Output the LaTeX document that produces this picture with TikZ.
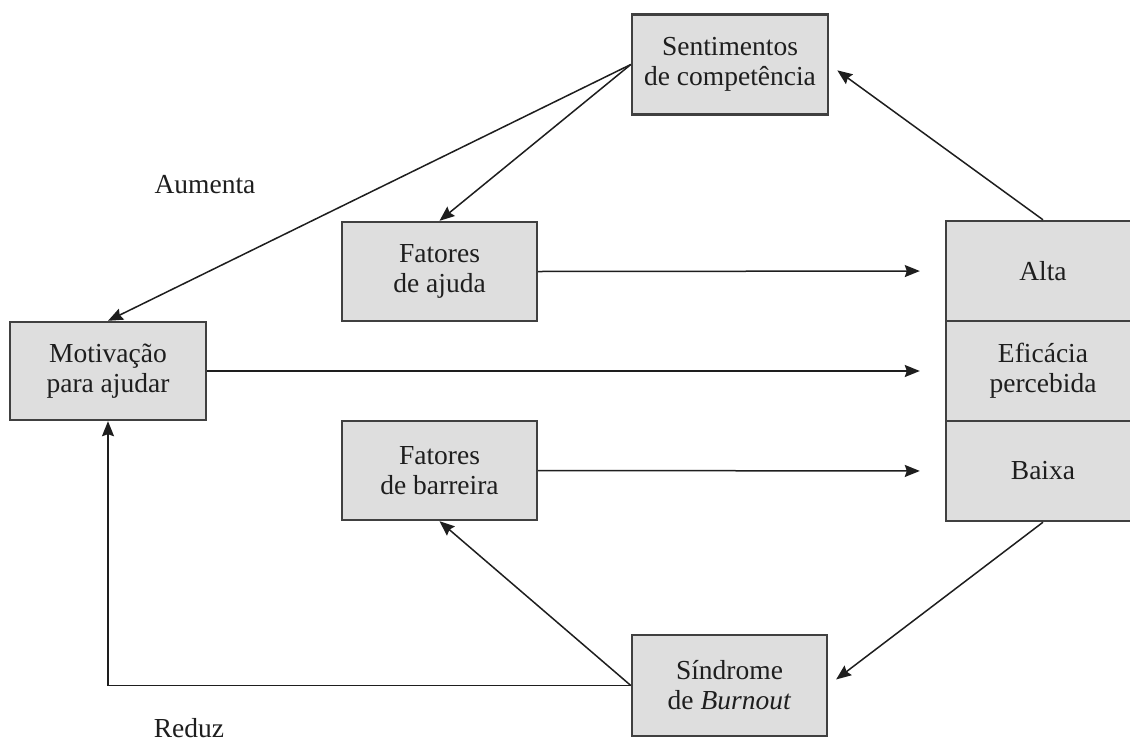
\documentclass[tikz,border=0pt]{standalone}
\usepackage{fontspec}
\setmainfont{Liberation Serif}
\usetikzlibrary{arrows.meta}

\definecolor{boxfill}{HTML}{DEDEDE}
\definecolor{boxline}{HTML}{404040}
\definecolor{ink}{HTML}{1E1E1E}

\tikzset{
  box/.style={draw=boxline, line width=2.4pt, fill=boxfill, text=ink,
    align=center, inner sep=0pt, minimum width=196pt, minimum height=100pt,
    font=\fontsize{27.5}{30}\selectfont},
  cell/.style={box, minimum width=194pt, minimum height=100pt},
  link/.style={draw=ink, line width=1.5pt,
    -{Stealth[length=15pt, width=12pt, inset=2pt]}},
  tag/.style={text=ink, font=\fontsize{27.5}{30}\selectfont, inner sep=0pt}
}

\begin{document}
\begin{tikzpicture}[x=1pt, y=-1pt]
  \useasboundingbox (0,0) rectangle (1130,742);
  \clip (0,0) rectangle (1130,742);
  \fill[white] (0,0) rectangle (1130,742);

  % main boxes
  \node[box] (sent) at (730,64.5) {Sentimentos\\de competência};
  \node[box, minimum width=195pt, minimum height=99pt] (ajuda) at (439.5,271.5) {Fatores\\de ajuda};
  \node[box, minimum height=98pt] (motiv) at (108,371) {Motivação\\para ajudar};
  \node[box, minimum width=195pt, minimum height=99pt] (barr) at (439.5,470.5) {Fatores\\de barreira};
  \node[box, minimum width=195pt, minimum height=101pt] (sind) at (729.5,685.5) {Síndrome\\de \textit{Burnout}};

  % perceived efficacy column
  \node[cell] (alta) at (1043,271) {Alta};
  \node[cell] (efic) at (1043,371) {Eficácia\\percebida};
  \node[cell] (baixa) at (1043,471) {Baixa};

  % side labels
  \node[tag] (aum) at (205,185) {Aumenta};
  \node[tag] (red) at (189,728) {Reduz};

  % connectors
  \draw[link] (sent.west) -- (motiv.north);
  \draw[link] (sent.west) -- (ajuda.north);
  \draw[link, shorten >=10pt] (alta.north) -- (sent.east);
  \draw[link, shorten >=25pt] (ajuda.east) -- (alta.west);
  \draw[link, shorten >=25pt] (motiv.east) -- (efic.west);
  \draw[link, shorten >=25pt] (barr.east) -- (baixa.west);
  \draw[link, shorten >=10pt] (baixa.south) -- (sind.east);
  \draw[link] (sind.west) -- (barr.south);
  \draw[link] (sind.west) -| (motiv.south);
\end{tikzpicture}
\end{document}
